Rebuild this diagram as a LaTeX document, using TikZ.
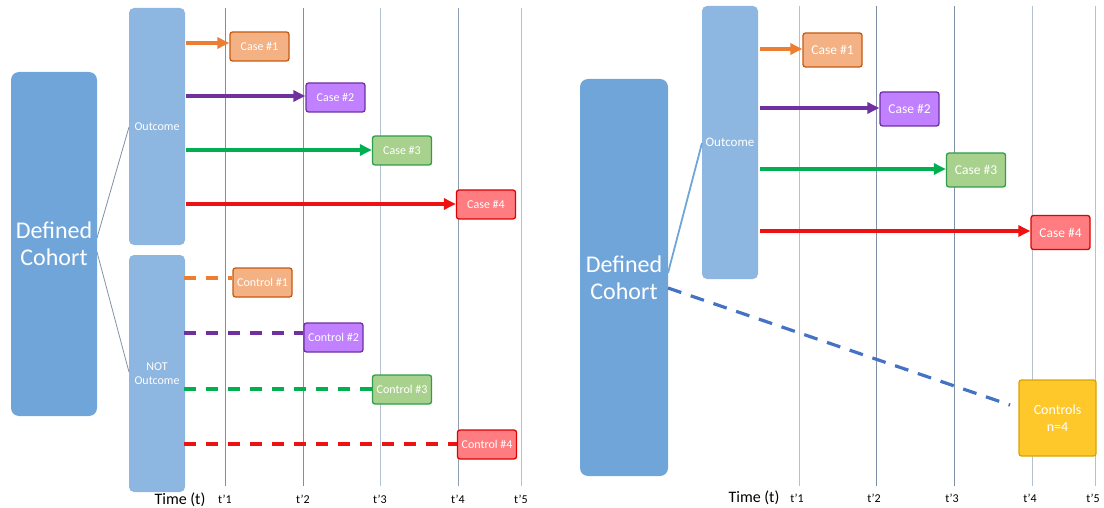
\documentclass[tikz,border=0pt]{standalone}
\usepackage{fontspec}
\setmainfont{Carlito}
\usetikzlibrary{arrows.meta}
\definecolor{cohort}{HTML}{70A5DA}
\definecolor{outc}{HTML}{8DB6E1}
\definecolor{orA}{HTML}{ED7D31}\definecolor{orF}{HTML}{F4B183}\definecolor{orD}{HTML}{C55A11}
\definecolor{puA}{HTML}{7030A0}\definecolor{puF}{HTML}{C080FF}\definecolor{puD}{HTML}{7030A0}
\definecolor{grA}{HTML}{00B050}\definecolor{grF}{HTML}{A9D18E}\definecolor{grD}{HTML}{2E9E48}
\definecolor{reA}{HTML}{EE1111}\definecolor{reF}{HTML}{FF7C80}\definecolor{reD}{HTML}{E00000}
\definecolor{gold}{HTML}{FFC82A}\definecolor{goldD}{HTML}{D9A400}
\definecolor{tdark}{HTML}{7F8FA6}\definecolor{tlight}{HTML}{B4C2D0}
\definecolor{dashblue}{HTML}{4472C4}
\tikzset{
  bigbox/.style={rectangle, rounded corners=8pt, fill=cohort, text=white, inner sep=0pt, align=center},
  outbox/.style={rectangle, rounded corners=5pt, fill=outc, text=white, inner sep=0pt, align=center},
  evbox/.style={rectangle, rounded corners=2.5pt, line width=1.3pt, text=white, inner sep=0pt, align=center},
  evarrow/.style={line width=3.5pt, -{Triangle[length=12pt,width=11pt]}},
  ctrldash/.style={line width=3.6pt, dash pattern=on 12pt off 10pt},
  tline/.style={line width=0.9pt},
  tlab/.style={font=\fontsize{12}{14}\selectfont, inner sep=0pt}
}
\begin{document}
\begin{tikzpicture}[x=1pt,y=-1pt]
\useasboundingbox (0,0) rectangle (1104,508);

% ---------- left panel: time grid ----------
\foreach \x/\c [count=\i] in {225/tdark,303/tdark,380/tlight,458/tdark!70!tlight,521/tlight}{
  \coordinate (Lt\i a) at (\x,8);
  \coordinate (Lt\i b) at (\x,486);
  \draw[tline,draw=\c] (Lt\i a) -- (Lt\i b);
  \node[tlab] (Llab\i) at (\x,499) {t'\i};
}
\node[font=\fontsize{16}{18}\selectfont, inner sep=0pt] (Ltime) at (180,499.5) {Time (t)};

% cohort and split
\node[bigbox, minimum width=86pt, minimum height=344pt, font=\fontsize{24}{27}\selectfont] (Lcoh) at (54,244) {Defined\\Cohort};
\node[outbox, minimum width=56pt, minimum height=237pt, font=\fontsize{12}{14}\selectfont] (Lout) at (157,126.5) {Outcome};
\node[outbox, minimum width=56pt, minimum height=237pt, font=\fontsize{12}{14}\selectfont] (Lnot) at (157,373.5) {NOT\\Outcome};
\coordinate (Lc1) at (97,238);
\coordinate (Lc2) at (97,252);
\coordinate (Lo1) at (129,127);
\coordinate (Ln1) at (129,372);
\draw[line width=0.8pt, draw=tdark] (Lc1) -- (Lo1);
\draw[line width=0.8pt, draw=tdark] (Lc2) -- (Ln1);

% cases
\tikzset{lcase/.style={evbox, minimum width=59pt, minimum height=29pt, font=\fontsize{12}{14}\selectfont}}
\node[lcase, fill=orF, draw=orD] (LC1) at (259.5,46.5) {Case \#1};
\node[lcase, fill=puF, draw=puD] (LC2) at (335.5,97.5) {Case \#2};
\node[lcase, fill=grF, draw=grD] (LC3) at (402,150.5) {Case \#3};
\node[lcase, fill=reF, draw=reD] (LC4) at (486,204.5) {Case \#4};
\coordinate (La1) at (186,43);
\coordinate (La2) at (186,96);
\coordinate (La3) at (186,150);
\coordinate (La4) at (186,204);
\draw[evarrow, draw=orA, fill=orA, line width=4pt] (La1) -- (LC1.west |- La1);
\draw[evarrow, draw=puA, fill=puA] (La2) -- (LC2.west |- La2);
\draw[evarrow, draw=grA, fill=grA] (La3) -- (LC3.west |- La3);
\draw[evarrow, draw=reA, fill=reA] (La4) -- (LC4.west |- La4);

% controls
\node[lcase, fill=orF, draw=orD] (LK1) at (262.5,282.5) {Control \#1};
\node[lcase, fill=puF, draw=puD] (LK2) at (333.5,337.5) {Control \#2};
\node[lcase, fill=grF, draw=grD] (LK3) at (402,389.5) {Control \#3};
\node[lcase, fill=reF, draw=reD] (LK4) at (487,444.5) {Control \#4};
\coordinate (Ld1) at (184,278);
\coordinate (Ld2) at (184,333);
\coordinate (Ld3) at (184,389);
\coordinate (Ld4) at (184,444);
\draw[ctrldash, draw=orA] (Ld1) -- (LK1.west |- Ld1);
\draw[ctrldash, draw=puA] (Ld2) -- (LK2.west |- Ld2);
\draw[ctrldash, draw=grA] (Ld3) -- (LK3.west |- Ld3);
\draw[ctrldash, draw=reA] (Ld4) -- (LK4.west |- Ld4);

% ---------- right panel: time grid ----------
\foreach \x/\c [count=\i] in {799/tlight,876/tdark,954/tdark,1032/tlight,1095/tlight}{
  \coordinate (Rt\i a) at (\x,6);
  \coordinate (Rt\i b) at (\x,486);
  \draw[tline,draw=\c] (Rt\i a) -- (Rt\i b);
  \node[tlab] (Rlab\i) at (\x-2,498) {t'\i};
}
\node[font=\fontsize{16}{18}\selectfont, inner sep=0pt] (Rtime) at (754,498) {Time (t)};

\node[bigbox, minimum width=88pt, minimum height=397pt, font=\fontsize{24}{27}\selectfont] (Rcoh) at (624,277.5) {Defined\\Cohort};
\node[outbox, minimum width=56pt, minimum height=273pt, font=\fontsize{13}{15}\selectfont] (Rout) at (730,142.5) {Outcome};
\coordinate (Rc1) at (668,273);
\coordinate (Rc2) at (668,288);
\coordinate (Ro1) at (702,143);
\draw[line width=1.8pt, draw=cohort] (Rc1) -- (Ro1);

\tikzset{rcase/.style={evbox, minimum width=59pt, minimum height=34pt, font=\fontsize{13.5}{15}\selectfont}}
\node[rcase, fill=orF, draw=orD] (RC1) at (832.5,50) {Case \#1};
\node[rcase, fill=puF, draw=puD] (RC2) at (909.5,109) {Case \#2};
\node[rcase, fill=grF, draw=grD] (RC3) at (976,170) {Case \#3};
\node[rcase, fill=reF, draw=reD] (RC4) at (1060.5,232.5) {Case \#4};
\coordinate (Ra1) at (760,49);
\coordinate (Ra2) at (760,108);
\coordinate (Ra3) at (760,169);
\coordinate (Ra4) at (760,231);
\draw[evarrow, draw=orA, fill=orA, line width=4pt] (Ra1) -- (RC1.west |- Ra1);
\draw[evarrow, draw=puA, fill=puA] (Ra2) -- (RC2.west |- Ra2);
\draw[evarrow, draw=grA, fill=grA] (Ra3) -- (RC3.west |- Ra3);
\draw[evarrow, draw=reA, fill=reA] (Ra4) -- (RC4.west |- Ra4);

\node[evbox, fill=gold, draw=goldD, minimum width=77pt, minimum height=76pt, font=\fontsize{14}{17}\selectfont] (Rctl) at (1057.5,418) {Controls\\n=4};
\coordinate (Rd1) at (1010,405);
\draw[line width=3.2pt, draw=dashblue, dash pattern=on 14pt off 10pt] (Rc2) -- (Rd1);
\end{tikzpicture}
\end{document}
